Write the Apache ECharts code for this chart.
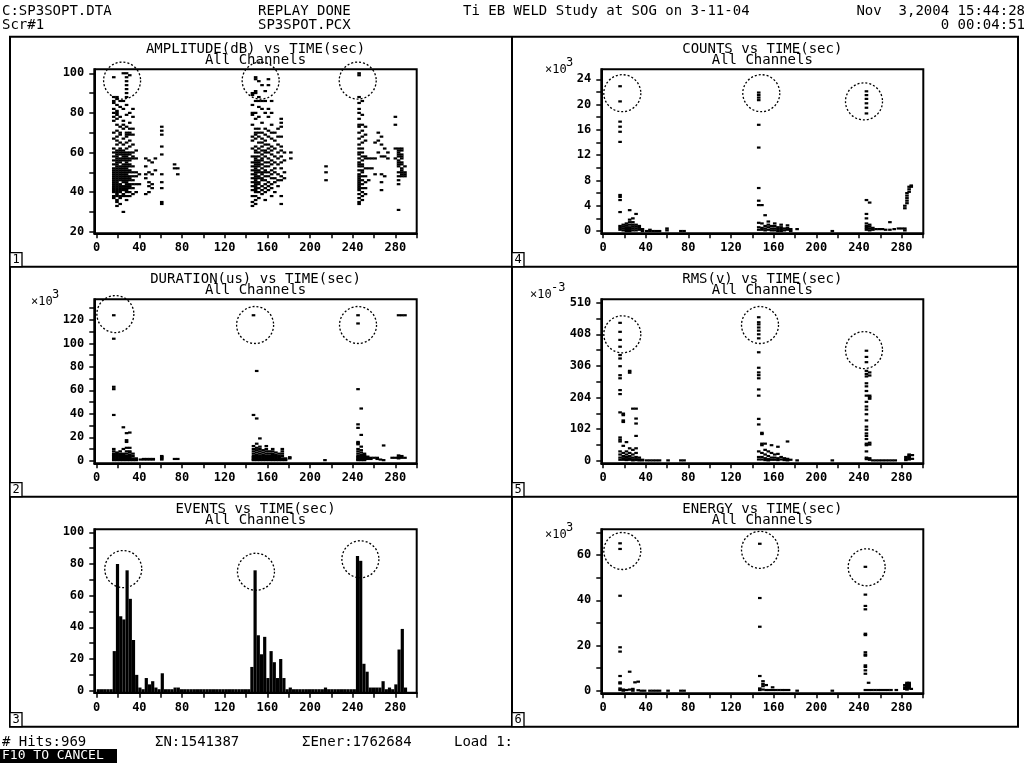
<!DOCTYPE html>
<html>
<head>
<meta charset="utf-8">
<script src="https://cdn.jsdelivr.net/npm/echarts@6/dist/echarts.min.js"></script>
<style>
html, body { margin: 0; padding: 0; background: #fff; }
#main { width: 1028px; height: 767px; }
</style>
</head>
<body>
<div id="main"></div>
<script>
// tick values / labels
var xTicks = [0, 20, 40, 60, 80, 100, 120, 140, 160, 180, 200, 220, 240, 260, 280, 300];
var xLabels = [0, 40, 80, 120, 160, 200, 240, 280];
var ampTicks = [20, 30, 40, 50, 60, 70, 80, 90, 100];
var ampLabels = [20, 40, 60, 80, 100];
var durTicks = [0, 10, 20, 30, 40, 50, 60, 70, 80, 90, 100, 110, 120, 130];
var durLabels = [0, 20, 40, 60, 80, 100, 120];
var evtTicks = [0, 10, 20, 30, 40, 50, 60, 70, 80, 90, 100];
var evtLabels = [0, 20, 40, 60, 80, 100];
var cntTicks = [0, 2, 4, 6, 8, 10, 12, 14, 16, 18, 20, 22, 24];
var cntLabels = [0, 4, 8, 12, 16, 20, 24];
var rmsTicks = [0, 51, 102, 153, 204, 255, 306, 357, 408, 459, 510];
var rmsLabels = [0, 102, 204, 306, 408, 510];
var engTicks = [0, 10, 20, 30, 40, 50, 60, 70];
var engLabels = [0, 20, 40, 60];

// hits, grouped by time column: [time(sec), [values]]
var ampCols = [
  [16, [98, 88, 86, 85, 82, 80, 78, 76, 70, 67, 62, 60, 58, 56, 54, 52, 51, 50, 49, 48, 47, 46, 45, 44, 43, 42, 41, 40, 38, 37]],
  [19, [88, 87, 84, 81, 80, 79, 77, 74, 71, 68, 66, 64, 61, 60, 59, 58, 57, 56, 55, 54, 53, 52, 51, 50, 49, 48, 47, 46, 45, 44, 43, 42, 41, 40, 39, 38, 36, 35, 33]],
  [22, [86, 83, 78, 73, 70, 69, 65, 62, 61, 60, 59, 57, 56, 55, 53, 52, 51, 50, 49, 48, 47, 46, 44, 43, 42, 41, 40, 38, 37, 34]],
  [25, [100, 86, 82, 76, 74, 72, 67, 64, 61, 60, 59, 58, 57, 56, 54, 53, 52, 51, 50, 49, 48, 47, 46, 45, 43, 42, 41, 39, 38, 30]],
  [28, [100, 98, 96, 94, 92, 90, 88, 84, 79, 73, 70, 69, 68, 65, 62, 60, 59, 58, 57, 56, 55, 54, 53, 52, 51, 50, 49, 48, 47, 46, 45, 44, 43, 42, 41, 40, 38, 36]],
  [31, [99, 80, 75, 72, 70, 69, 66, 63, 60, 59, 57, 56, 54, 53, 51, 50, 48, 47, 46, 44, 43, 42, 40, 38]],
  [34, [82, 78, 72, 69, 64, 60, 58, 57, 53, 50, 48, 46, 44, 42, 39]],
  [37, [61, 57, 50, 48, 44, 40]],
  [40, [49, 44]],
  [46, [57, 53, 49, 47, 39]],
  [49, [56, 50, 45, 43, 40]],
  [52, [55, 49, 44, 42]],
  [55, [57, 51]],
  [61, [73, 71, 69, 63, 59, 49, 45, 42, 35, 34]],
  [73, [54, 52]],
  [76, [52, 49]],
  [146, [90, 89, 84, 80, 79, 74, 68, 66, 62, 58, 55, 53, 51, 49, 47, 45, 43, 41, 38, 35, 33]],
  [149, [98, 97, 91, 90, 86, 80, 77, 72, 70, 69, 67, 63, 61, 60, 58, 57, 56, 55, 54, 53, 52, 51, 50, 49, 48, 47, 46, 45, 44, 43, 42, 41, 40, 38, 36, 34]],
  [152, [96, 88, 86, 83, 78, 72, 70, 68, 65, 62, 60, 58, 56, 55, 54, 53, 51, 50, 48, 47, 45, 44, 42, 40, 37]],
  [155, [94, 86, 82, 75, 70, 67, 65, 63, 61, 59, 57, 56, 54, 52, 50, 49, 47, 46, 43, 41, 39]],
  [158, [91, 86, 80, 72, 69, 66, 64, 61, 60, 58, 55, 53, 51, 50, 48, 46, 44, 42, 40, 36]],
  [161, [97, 94, 82, 78, 71, 68, 64, 62, 60, 57, 55, 53, 50, 48, 45, 43, 41]],
  [164, [86, 80, 74, 70, 67, 63, 61, 59, 56, 54, 51, 49, 47, 44, 42, 38]],
  [167, [70, 66, 62, 58, 55, 52, 50, 47, 45, 40]],
  [170, [72, 68, 64, 60, 57, 54, 49, 46, 43]],
  [173, [77, 75, 73, 68, 63, 61, 58, 55, 52, 48, 46, 38, 34]],
  [176, [60, 56, 50, 47]],
  [182, [60, 57]],
  [215, [53, 50, 46]],
  [246, [100, 99, 88, 85, 82, 80, 77, 74, 73, 70, 67, 64, 62, 60, 59, 57, 55, 54, 53, 51, 49, 48, 47, 46, 45, 44, 43, 42, 41, 39, 37, 35, 34]],
  [249, [86, 79, 74, 71, 68, 65, 62, 60, 58, 56, 54, 53, 51, 50, 48, 46, 44, 42, 40, 38, 36]],
  [252, [73, 69, 66, 58, 57, 52, 48, 45, 42, 39]],
  [255, [57, 52, 46]],
  [258, [57, 52]],
  [261, [65, 57, 49]],
  [264, [70, 66, 60]],
  [267, [68, 64, 58, 49, 45, 41]],
  [270, [62, 58, 48]],
  [273, [60, 57]],
  [280, [78, 74, 62, 57]],
  [283, [62, 61, 60, 59, 58, 56, 55, 54, 53, 50, 48, 46, 44, 31]],
  [286, [62, 61, 59, 58, 57, 55, 54, 52, 51, 50, 49, 48]],
  [289, [53, 50, 49, 48]]
];

// duration, x10^3 us
var durCols = [
  [16, [124, 104, 63, 61, 39, 10, 8, 6, 5, 4, 3, 2, 1, 0.5]],
  [19, [7, 6, 5, 4, 3, 2, 1, 0.5]],
  [22, [8, 6, 5, 4, 3, 2, 1, 0.5]],
  [25, [28.5, 10, 6, 5, 4, 3, 2, 1, 0.5]],
  [28, [23.5, 17.5, 16, 11, 8, 6, 4, 3, 2, 1, 0.5]],
  [31, [24, 11, 8, 7, 5, 4, 3, 2, 1, 0.5]],
  [34, [6, 4, 2, 1, 0.5]],
  [37, [2, 1, 0.5]],
  [41, [1]], [44, [1.5, 1]], [47, [1.5, 1]], [50, [1.5, 1]], [53, [1.5, 1]],
  [61, [4, 3, 2, 1]],
  [73, [1.5]], [76, [1.5]],
  [147, [124, 39, 12.5, 10, 8, 6, 4, 3, 2, 1, 0.5]],
  [150, [76.5, 36, 14.5, 11, 9, 7, 5, 4, 3, 2, 1, 0.5]],
  [153, [19, 12, 10, 8, 6, 4, 3, 2, 1, 0.5]],
  [156, [9, 7, 5, 4, 3, 2, 1, 0.5]],
  [159, [12.5, 10, 8, 6, 4, 3, 2, 1, 0.5]],
  [162, [8, 6, 4, 3, 2, 1, 0.5]],
  [165, [10, 8, 6, 5, 4, 3, 2, 1, 0.5]],
  [168, [7, 5, 4, 3, 2, 1, 0.5]],
  [171, [6, 4, 3, 2, 1, 0.5]],
  [174, [10, 8, 6, 4, 2, 1, 0.5]],
  [177, [2, 1, 0.5]],
  [181, [3, 2]],
  [214, [0.5]],
  [245, [124, 117, 61, 31, 28, 16, 15, 14, 10, 8, 6, 4, 3, 2, 1, 0.5]],
  [248, [44.5, 22, 12, 9, 7, 5, 4, 3, 2, 1, 0.5]],
  [251, [6, 5, 4, 3, 2, 1, 0.5]],
  [254, [3.5, 2.5, 1.5]],
  [257, [2.5, 1.5]],
  [260, [2.5]], [263, [2.5, 1.5]], [266, [1]], [269, [13, 0.5]],
  [277, [2.5]], [280, [2.5]],
  [283, [124, 4.5, 3, 2]], [286, [124, 4, 2.5]], [289, [124, 2.5]]
];

// events per 3 sec bin, from t=0
var eventCounts = [
  0, 0, 0, 0, 0, 25, 80, 47, 45, 76,
  58, 32, 10, 2, 0, 8, 4, 6, 2, 0,
  11, 0, 0, 0, 2, 2, 0, 0, 0, 0,
  0, 0, 0, 0, 0, 0, 0, 0, 0, 0,
  0, 0, 0, 0, 0, 0, 0, 0, 15, 76,
  35, 23, 34, 8, 25, 18, 8, 20, 8, 0,
  2, 0, 0, 0, 0, 0, 0, 0, 0, 0,
  0, 2, 0, 0, 0, 0, 0, 0, 0, 0,
  0, 85, 82, 17, 12, 2, 2, 2, 2, 6,
  0, 2, 0, 4, 26, 39, 2
];
var binWidth = 3;

// counts, x10^3
var cntCols = [
  [16, [22.9, 20.5, 17.3, 16.5, 15.7, 14.1, 5.7, 5.4, 4.9, 3.0, 0.8, 0.5, 0.2]],
  [19, [1.0, 0.7, 0.4, 0.1]],
  [22, [1.2, 0.9, 0.6, 0.3, 0]],
  [25, [3.3, 1.8, 1.4, 1.0, 0.6, 0.3, 0]],
  [28, [2.0, 1.4, 1.0, 0.7, 0.4, 0.1]],
  [31, [2.7, 1.0, 0.7, 0.4, 0.1]],
  [34, [0.8, 0.5, 0.2]],
  [37, [0.3, 0]],
  [41, [0]], [44, [0.2, 0]], [47, [0]], [50, [0]], [53, [0]],
  [60, [0.4, 0.1]],
  [73, [0]], [76, [0]],
  [146, [21.9, 21.5, 21.1, 20.7, 16.8, 13.2, 6.8, 4.8, 4.1, 1.3, 0.6, 0.2]],
  [149, [4.1, 1.2, 0.5, 0.2]],
  [152, [2.5, 0.8, 0.4, 0.1]],
  [155, [1.5, 1.0, 0.6, 0.2]],
  [158, [0.8, 0.4, 0.1]],
  [161, [1.2, 0.8, 0.4, 0.1]],
  [164, [0.6, 0.3, 0]],
  [167, [1.0, 0.6, 0.3, 0]],
  [170, [0.4, 0.1]],
  [173, [0.9, 0.5, 0.2]],
  [176, [0.3, 0]],
  [182, [0.3]],
  [215, [0]],
  [247, [22.1, 21.5, 20.9, 20.2, 19.5, 18.6, 4.9, 2.7, 2.0, 1.2, 0.8, 0.5, 0.2]],
  [250, [4.5, 1.0, 0.7, 0.4, 0.1]],
  [253, [0.5, 0.2]],
  [256, [0.3]], [259, [0.3]], [262, [0.3]], [265, [0.2]], [269, [1.4, 0.2]],
  [273, [0.3]], [277, [0.4]], [280, [0.4]],
  [283, [4.0, 3.6, 0.4, 0.1]],
  [285, [6.0, 5.6, 5.2, 4.8, 4.4]],
  [287, [7.0, 6.6, 6.2]],
  [289, [7.2, 7.0]]
];

// RMS, x10^-3 V
var rmsCols = [
  [16, [445, 416, 390, 368, 341, 330, 305, 276, 266, 228, 215, 156, 75, 68, 62, 30, 20, 10, 3]],
  [19, [152, 147, 130, 125, 48, 25, 15, 8, 3]],
  [22, [60, 30, 20, 12, 5, 2]],
  [25, [290, 284, 40, 25, 15, 8, 3]],
  [28, [168, 35, 20, 10, 4, 1]],
  [31, [168, 136, 120, 80, 40, 25, 12, 5, 2]],
  [34, [10, 4, 1]],
  [37, [3, 1]],
  [41, [1]], [44, [1]], [47, [1]], [50, [1]], [53, [1]], [61, [1]], [73, [1]], [76, [1]],
  [146, [463, 447, 440, 430, 420, 408, 395, 350, 300, 285, 276, 266, 230, 210, 135, 117, 30, 12, 4]],
  [149, [90, 86, 55, 50, 25, 12, 4]],
  [152, [55, 35, 20, 8, 2]],
  [155, [30, 15, 5, 1]],
  [158, [50, 25, 10, 3]],
  [161, [20, 10, 3]],
  [164, [45, 22, 8, 2]],
  [167, [12, 4]], [170, [8, 2]], [173, [62, 6, 1]], [176, [3]], [182, [1]], [215, [1]],
  [247, [355, 335, 318, 290, 280, 272, 250, 240, 225, 210, 190, 175, 165, 150, 130, 110, 100, 88, 80, 70, 55, 50, 30, 10, 5]],
  [250, [285, 275, 210, 205, 200, 58, 52, 8, 3]],
  [253, [1]], [256, [1]], [259, [1]], [262, [1]], [265, [1]], [268, [1]], [271, [1]], [274, [1]],
  [284, [12, 6, 2]],
  [287, [20, 16, 12, 8, 4]],
  [290, [18, 6]]
];

// energy, x10^3
var engCols = [
  [16, [65.2, 62.7, 42, 19.2, 17.3, 6.5, 3.7, 3.2, 1.0, 0.3]],
  [19, [0.5, 0]], [22, [0.3]], [25, [8.4, 0.5]], [28, [0.8, 0]], [30, [3.7]], [33, [4.0, 0.2]],
  [36, [0]], [39, [0]],
  [44, [0]], [47, [0]], [50, [0]], [53, [0]], [61, [0]], [73, [0]], [76, [0]],
  [147, [65, 41, 28.3, 6.5, 1.0, 0.3]],
  [150, [4.2, 3.0, 2.0, 0.5]],
  [153, [2.5, 0.3]], [156, [0.3]], [159, [1.5, 0.3]], [162, [0.3]], [165, [0.3]],
  [168, [0.3]], [171, [0.3]], [174, [0.3]], [182, [0]], [215, [0]],
  [246, [54.8, 42.5, 37.5, 36, 25.2, 24.6, 17, 16, 15.5, 11.2, 10.5, 9, 7.5, 0.3]],
  [249, [3.5, 0.3]],
  [252, [0.3]], [255, [0.3]], [258, [0.3]], [261, [0.3]], [264, [0.3]], [267, [0.3]], [270, [0.3]], [275, [0.3]],
  [283, [2.5, 1.5, 0.8]],
  [285, [3.5, 3.0, 2.5, 2.0, 1.5, 1.0, 0.5]],
  [287, [3.5, 3.0, 2.5, 2.0, 1.5, 1.0]],
  [289, [0.8]]
];

// hand-drawn circles on the printout
var ampCircles = [[23.8, 96.3], [153.7, 96.3], [244.7, 96.3]];
var durCircles = [[17.5, 125], [148.5, 115.7], [245, 115.7]];
var evtCircles = [[24.9, 76.8], [149.3, 75.1], [247.2, 83]];
var cntCircles = [[18.1, 21.8], [148.4, 21.8], [244.7, 20.5]];
var rmsCircles = [[18.1, 408], [147.2, 438], [244.7, 357]];
var engCircles = [[18.1, 61.8], [147.2, 62.3], [247.2, 54.6]];

function expand(cols) {
  var out = [];
  cols.forEach(function (c) {
    c[1].forEach(function (v) { out.push([c[0], v]); });
  });
  return out;
}

var MONO = 'DejaVu Sans Mono';

var panels = [
  { title: 'AMPLITUDE(dB) vs TIME(sec)', left: 94.3, top: 69.3, width: 322.4, height: 164,
    x: [-2.25, 300], y: [19.2, 102], yTicks: ampTicks, yLabels: ampLabels, hits: ampCols, circles: ampCircles },
  { title: 'DURATION(us) vs TIME(sec)', left: 94.3, top: 299.3, width: 322.4, height: 164,
    x: [-2.25, 300], y: [-2.2, 137.6], yTicks: durTicks, yLabels: durLabels, hits: durCols, circles: durCircles,
    mult: ['×10', '3', 31, 302] },
  { title: 'EVENTS vs TIME(sec)', left: 94.3, top: 529.3, width: 322.4, height: 163.4,
    x: [-2.25, 300], y: [-1.26, 101.9], yTicks: evtTicks, yLabels: evtLabels, bars: eventCounts, circles: evtCircles },
  { title: 'COUNTS vs TIME(sec)', left: 601.3, top: 69.3, width: 322, height: 164,
    x: [-1.6, 300.3], y: [-0.36, 25.58], yTicks: cntTicks, yLabels: cntLabels, hits: cntCols, circles: cntCircles,
    mult: ['×10', '3', 545, 70] },
  { title: 'RMS(v) vs TIME(sec)', left: 601.3, top: 299.3, width: 322, height: 164,
    x: [-1.6, 300.3], y: [-8.4, 521], yTicks: rmsTicks, yLabels: rmsLabels, hits: rmsCols, circles: rmsCircles,
    mult: ['×10', '-3', 530, 295] },
  { title: 'ENERGY vs TIME(sec)', left: 601.3, top: 529.3, width: 322, height: 164,
    x: [-1.6, 300.3], y: [-1.15, 71.4], yTicks: engTicks, yLabels: engLabels, hits: engCols, circles: engCircles,
    mult: ['×10', '3', 545, 535] }
];

var grids = [], xAxes = [], yAxes = [], series = [], graphics = [];

var labelStyle = { color: '#000', fontFamily: MONO, fontSize: 12, fontWeight: 'bold' };

panels.forEach(function (p, i) {
  grids.push({ left: p.left, top: p.top, width: p.width, height: p.height,
    show: true, borderColor: '#000', borderWidth: 2, backgroundColor: 'transparent',
    outerBoundsMode: 'none' });
  xAxes.push({
    gridIndex: i, type: 'value', min: p.x[0], max: p.x[1],
    axisLine: { show: true, onZero: false, lineStyle: { color: '#000', width: 2 } },
    axisTick: { show: true, length: 5, customValues: xTicks, lineStyle: { color: '#000', width: 1.5 } },
    axisLabel: Object.assign({ customValues: xLabels, margin: 9 }, labelStyle),
    splitLine: { show: false }
  });
  yAxes.push({
    gridIndex: i, type: 'value', min: p.y[0], max: p.y[1],
    axisLine: { show: true, onZero: false, lineStyle: { color: '#000', width: 2 } },
    axisTick: { show: true, length: 5, customValues: p.yTicks, lineStyle: { color: '#000', width: 1.5 } },
    axisLabel: Object.assign({ customValues: p.yLabels, margin: 10 }, labelStyle),
    splitLine: { show: false }
  });

  if (p.hits) {
    series.push({
      type: 'scatter', xAxisIndex: i, yAxisIndex: i, data: expand(p.hits),
      symbol: 'rect', symbolSize: [3.6, 2.2], itemStyle: { color: '#000', opacity: 1 },
      silent: true, z: 3
    });
  }
  if (p.bars) {
    series.push({
      type: 'custom', xAxisIndex: i, yAxisIndex: i,
      data: p.bars.map(function (v, k) { return [k * binWidth, v]; }),
      renderItem: function (params, api) {
        var t = api.value(0), v = api.value(1);
        var a = api.coord([t, 0]);
        var b = api.coord([t + binWidth, v]);
        var bottom = a[1] + 2;
        var top = Math.min(b[1], a[1] - 1.5);
        return { type: 'rect', shape: { x: a[0], y: top, width: b[0] - a[0], height: bottom - top },
          style: { fill: '#000' } };
      },
      silent: true, z: 3
    });
  }
  series.push({
    type: 'scatter', xAxisIndex: i, yAxisIndex: i, data: p.circles,
    symbol: 'circle', symbolSize: 37,
    itemStyle: { color: 'rgba(0,0,0,0)', borderColor: '#000', borderWidth: 1.3, borderType: [2, 2], opacity: 1 },
    silent: true, z: 4
  });

  var cx = p.left + p.width / 2;
  graphics.push({ type: 'text', x: cx, y: p.top - 20,
    style: { text: p.title, font: '14px ' + MONO, fill: '#000', textAlign: 'center', textVerticalAlign: 'middle' } });
  graphics.push({ type: 'text', x: cx, y: p.top - 9,
    style: { text: 'All Channels', font: '14px ' + MONO, fill: '#000', textAlign: 'center', textVerticalAlign: 'middle' } });
  if (p.mult) {
    graphics.push({ type: 'text', x: p.mult[2], y: p.mult[3],
      style: { text: p.mult[0], font: '12px ' + MONO, fill: '#000', textAlign: 'left', textVerticalAlign: 'middle' } });
    graphics.push({ type: 'text', x: p.mult[2] + 21, y: p.mult[3] - 7,
      style: { text: p.mult[1], font: '12px ' + MONO, fill: '#000', textAlign: 'left', textVerticalAlign: 'middle' } });
  }
});

// panel frames
var B = { l: 10, r: 1018, t: 36.7, b: 726.7, m: 512, rows: [266.7, 496.7] };
var frameStyle = { stroke: '#000', lineWidth: 2, fill: null };
graphics.push({ type: 'rect', shape: { x: B.l, y: B.t, width: B.r - B.l, height: B.b - B.t }, style: frameStyle, silent: true });
graphics.push({ type: 'line', shape: { x1: B.m, y1: B.t, x2: B.m, y2: B.b }, style: frameStyle, silent: true });
B.rows.forEach(function (ry) {
  graphics.push({ type: 'line', shape: { x1: B.l, y1: ry, x2: B.r, y2: ry }, style: frameStyle, silent: true });
});
// panel number boxes
var rowBottoms = [B.rows[0], B.rows[1], B.b];
['1', '2', '3', '4', '5', '6'].forEach(function (n, k) {
  var bx = k < 3 ? B.l : B.m;
  var by = rowBottoms[k % 3];
  graphics.push({ type: 'rect', shape: { x: bx, y: by - 14, width: 12, height: 14 },
    style: { stroke: '#000', lineWidth: 1.3, fill: '#fff' }, silent: true });
  graphics.push({ type: 'text', x: bx + 6, y: by - 6.5,
    style: { text: n, font: '12px ' + MONO, fill: '#000', textAlign: 'center', textVerticalAlign: 'middle' } });
});

// header and status lines
function label(txt, x, y, align) {
  return { type: 'text', x: x, y: y,
    style: { text: txt, font: '14px ' + MONO, fill: '#000', textAlign: align || 'left', textVerticalAlign: 'middle' } };
}
graphics.push(label('C:SP3SOPT.DTA', 2, 11));
graphics.push(label('REPLAY DONE', 258, 11));
graphics.push(label('Ti EB WELD Study at SOG on 3-11-04', 463, 11));
graphics.push(label('Nov  3,2004 15:44:28', 1025, 11, 'right'));
graphics.push(label('Scr#1', 2, 25));
graphics.push(label('SP3SPOT.PCX', 258, 25));
graphics.push(label('0 00:04:51', 1025, 25, 'right'));

graphics.push(label('# Hits:969', 2, 742));
graphics.push(label('ΣN:1541387', 155, 742));
graphics.push(label('ΣEner:1762684', 302, 742));
graphics.push(label('Load 1:', 454, 742));
graphics.push({ type: 'rect', shape: { x: 0, y: 749, width: 117, height: 14 }, style: { fill: '#000' }, silent: true });
graphics.push({ type: 'text', x: 2, y: 756,
  style: { text: 'F10 TO CANCEL', font: '13px ' + MONO, fill: '#fff', textAlign: 'left', textVerticalAlign: 'middle' } });

var chart = echarts.init(document.getElementById('main'), null, { renderer: 'canvas' });
chart.setOption({
  animation: false,
  backgroundColor: '#fff',
  grid: grids,
  xAxis: xAxes,
  yAxis: yAxes,
  series: series,
  graphic: graphics
});
</script>
</body>
</html>
